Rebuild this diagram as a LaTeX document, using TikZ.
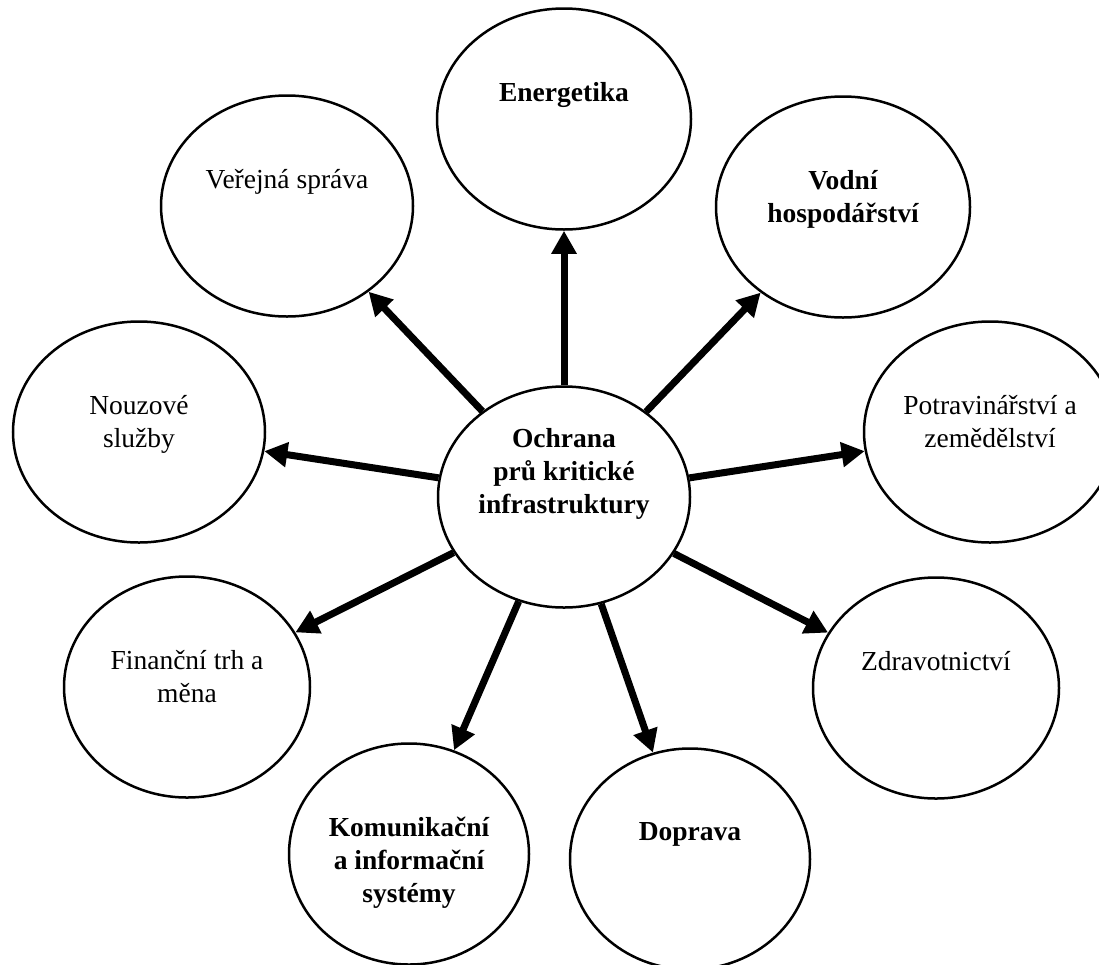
\documentclass[tikz,border=0pt]{standalone}
\usepackage{fontspec}
\setmainfont{Liberation Serif}
\usetikzlibrary{arrows.meta,shapes.geometric}
\begin{document}
\begin{tikzpicture}[x=1pt,y=-1pt,
  oval/.style={ellipse, draw, line width=2.5pt, minimum width=#1, minimum height=221pt, inner sep=0pt},
  oval/.default=252pt,
  lbl/.style={anchor=north, align=center, inner sep=0pt, font=\fontsize{27.5}{33}\selectfont},
  blbl/.style={anchor=north, align=center, inner sep=0pt, font=\fontsize{27.5}{33}\selectfont\bfseries},
  arr/.style={line width=7pt, -{Triangle[length=23pt,width=24pt]}}]
\useasboundingbox (0,0) rectangle (1099,964);
\clip (0,0) rectangle (1099,964);
\fill[white] (0,0) rectangle (1099,964);
% ellipses
\node[oval] (c) at (564,497) {};
\node[oval=254pt] (en) at (564,119) {};
\node[oval] (vs) at (287,206) {};
\node[oval=254pt] (vh) at (843,207) {};
\node[oval] (ns) at (139,432) {};
\node[oval] (pz) at (990,432) {};
\node[oval=246pt] (ft) at (187,687) {};
\node[oval=246pt] (zd) at (936,688) {};
\node[oval=240pt] (ki) at (409,854) {};
\node[oval=240pt] (dp) at (690,859) {};
% texts
\node[blbl] (c-t) at ([yshift=69pt]c.center) {Ochrana\\prů kritické\\infrastruktury};
\node[blbl] (en-t) at ([yshift=37pt]en.center) {Energetika};
\node[lbl] (vs-t) at ([yshift=37pt]vs.center) {Veřejná správa};
\node[blbl] (vh-t) at ([yshift=37pt]vh.center) {Vodní\\hospodářství};
\node[lbl] (ns-t) at ([yshift=37pt]ns.center) {Nouzové\\služby};
\node[lbl] (pz-t) at ([yshift=37pt]pz.center) {Potravinářství a\\zemědělství};
\node[lbl] (ft-t) at ([yshift=37pt]ft.center) {Finanční trh a\\měna};
\node[lbl] (zd-t) at ([yshift=37pt]zd.center) {Zdravotnictví};
\node[blbl] (ki-t) at ([yshift=37pt]ki.center) {Komunikační\\a informační\\systémy};
\node[blbl] (dp-t) at ([yshift=37pt]dp.center) {Doprava};
% arrows
\foreach \t in {en,vs,vh,ns,pz,ft,zd,ki,dp}
  \draw[arr] (c) -- (\t);
\end{tikzpicture}
\end{document}
